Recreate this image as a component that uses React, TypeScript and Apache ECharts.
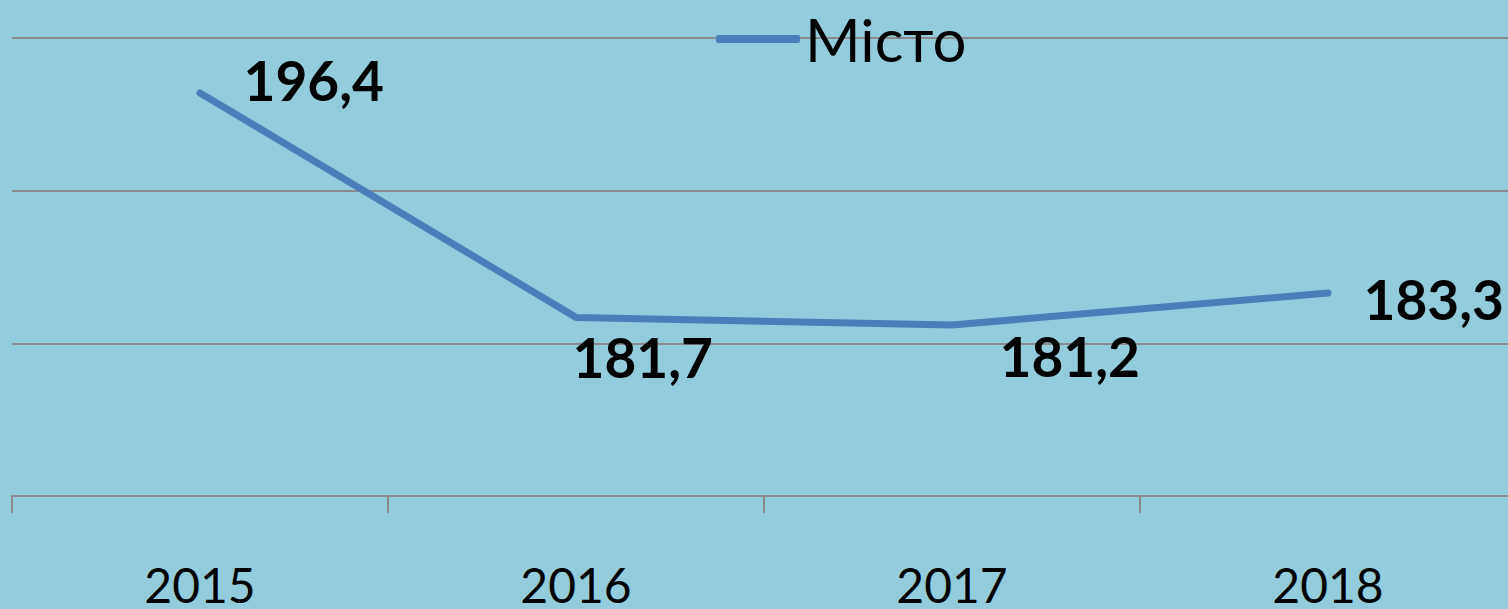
import React, { useEffect, useRef } from "react";
import * as echarts from "echarts";

const categories = ["2015", "2016", "2017", "2018"];
const seriesName = "Місто";
const values = [196.4, 181.7, 181.2, 183.3];
const valueLabels = ["196,4", "181,7", "181,2", "183,3"];
const labelOffsets: [number, number][] = [
  [43, -13],
  [-4, 40],
  [47, 31],
  [35, 6],
];

export default function App() {
  const ref = useRef<HTMLDivElement>(null);
  useEffect(() => {
    if (!ref.current) return;
    const chart = echarts.init(ref.current, undefined, { renderer: "svg" });
    const grey = "#8a8a8a";
    chart.setOption({
      animation: false,
      backgroundColor: "#93CDDD",
      textStyle: { fontFamily: "Lato" },
      legend: {
        left: 711,
        top: 4,
        icon: "roundRect",
        itemWidth: 84,
        itemHeight: 8,
        itemGap: 10,
        textStyle: { fontSize: 60, color: "#000", fontFamily: "Lato", lineHeight: 60, padding: [0, 0, 0, 0] },
        data: [seriesName],
      },
      grid: { left: 12, right: 0, top: 38, bottom: 113, containLabel: false },
      xAxis: {
        type: "category",
        data: categories,
        boundaryGap: true,
        axisLine: { show: true, lineStyle: { color: grey, width: 2 } },
        axisTick: { show: true, length: 17, interval: 0, lineStyle: { color: grey, width: 2 } },
        axisLabel: { show: true, interval: 0, fontSize: 48, color: "#000", fontFamily: "Lato", margin: 70, lineHeight: 36 },
        splitLine: { show: false },
      },
      yAxis: {
        type: "value",
        min: 170,
        max: 200,
        interval: 10,
        axisLabel: { show: false },
        axisLine: { show: false },
        axisTick: { show: false },
        splitLine: { show: true, lineStyle: { color: grey, width: 2 } },
      },
      series: [
        {
          name: seriesName,
          type: "line",
          symbol: "circle",
          symbolSize: 1,
          showSymbol: true,
          itemStyle: { color: "#4A7EBB" },
          lineStyle: { color: "#4A7EBB", width: 7, cap: "round", join: "round" },
          data: values.map((v, i) => ({
            value: v,
            label: {
              show: true,
              position: "right",
              distance: 0,
              offset: labelOffsets[i],
              align: "left",
              verticalAlign: "middle",
              formatter: () => valueLabels[i],
              fontSize: 55,
              fontWeight: "bold",
              color: "#000",
              fontFamily: "Lato",
            },
          })),
        },
      ],
    });
    return () => chart.dispose();
  }, []);
  return (
    <div style={{ position: "fixed", left: 0, top: 0, width: 1508, height: 609, overflow: "hidden" }}>
      <div ref={ref} style={{ width: 1516, height: 609 }} />
    </div>
  );
}
